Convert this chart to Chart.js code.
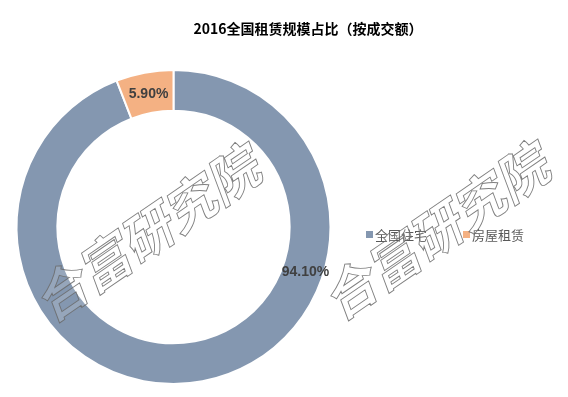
<!DOCTYPE html>
<html>
<head>
<meta charset="utf-8">
<script src="https://cdn.jsdelivr.net/npm/chart.js@4/dist/chart.umd.min.js"></script>
<style>
html,body{margin:0;padding:0;background:#fff;}
#wrap{position:relative;width:568px;height:397px;}
</style>
</head>
<body>
<div id="wrap"><canvas id="c" width="568" height="397"></canvas></div>
<script>
const chartTitle = '2016全国租赁规模占比（按成交额）';
const categories = ['全国住宅', '房屋租赁'];
const shares = [94.10, 5.90];
const sliceColors = ['#8497B0', '#F4B183'];
const watermarkText = '合富研究院';

// label anchor along each arc (fraction of arc span)
const labelAnchor = [0.322, 0.5];

const overlay = {
  id: 'overlay',
  afterDatasetsDraw(chart) {
    const ctx = chart.ctx;
    const meta = chart.getDatasetMeta(0);
    ctx.save();
    // data labels
    ctx.font = 'bold 14px "Liberation Sans", Arial, sans-serif';
    ctx.fillStyle = '#404040';
    ctx.textAlign = 'center';
    ctx.textBaseline = 'middle';
    meta.data.forEach((arc, i) => {
      const p = arc.getProps(['x','y','startAngle','endAngle','innerRadius','outerRadius'], true);
      const a = p.startAngle + (p.endAngle - p.startAngle) * labelAnchor[i];
      const r = (p.innerRadius + p.outerRadius) / 2 + (i === 0 ? 3 : -1);
      ctx.fillText(shares[i].toFixed(2) + '%', p.x + Math.cos(a) * r, p.y + Math.sin(a) * r);
    });
    // title
    ctx.font = 'bold 14px "Noto Sans CJK SC", sans-serif';
    ctx.fillStyle = '#000000';
    ctx.fillText(chartTitle, 308, 29);
    // legend
    ctx.font = '13px "Noto Sans CJK SC", sans-serif';
    ctx.textAlign = 'left';
    let x = 366;
    categories.forEach((c, i) => {
      ctx.fillStyle = sliceColors[i];
      ctx.fillRect(x, 231, 7, 7);
      ctx.fillStyle = '#595959';
      ctx.fillText(c, x + 9, 235);
      x += 9 + ctx.measureText(c).width + 36;
    });
    // watermarks
    ctx.font = 'italic bold 52px "Noto Sans CJK SC", sans-serif';
    ctx.lineWidth = 0.9;
    ctx.strokeStyle = 'rgba(105,105,105,0.85)';
    ctx.fillStyle = 'rgba(255,255,255,0.15)';
    [[146, 234], [435, 232]].forEach(([cx, cy]) => {
      ctx.save();
      ctx.translate(cx, cy);
      ctx.rotate(-34.5 * Math.PI / 180);
      ctx.textAlign = 'center';
      ctx.textBaseline = 'middle';
      ctx.fillText(watermarkText, 0, 0);
      ctx.strokeText(watermarkText, 0, 0);
      ctx.restore();
    });
    ctx.restore();
  }
};

new Chart(document.getElementById('c'), {
  type: 'doughnut',
  data: {
    labels: categories,
    datasets: [{
      data: shares,
      backgroundColor: sliceColors,
      borderColor: '#ffffff',
      borderWidth: 2
    }]
  },
  options: {
    responsive: false,
    animation: false,
    cutout: '74%',
    layout: { padding: { top: 69, bottom: 12, left: 15, right: 236 } },
    plugins: {
      legend: { display: false },
      title: { display: false },
      tooltip: { enabled: false }
    }
  },
  plugins: [overlay]
});
</script>
</body>
</html>
